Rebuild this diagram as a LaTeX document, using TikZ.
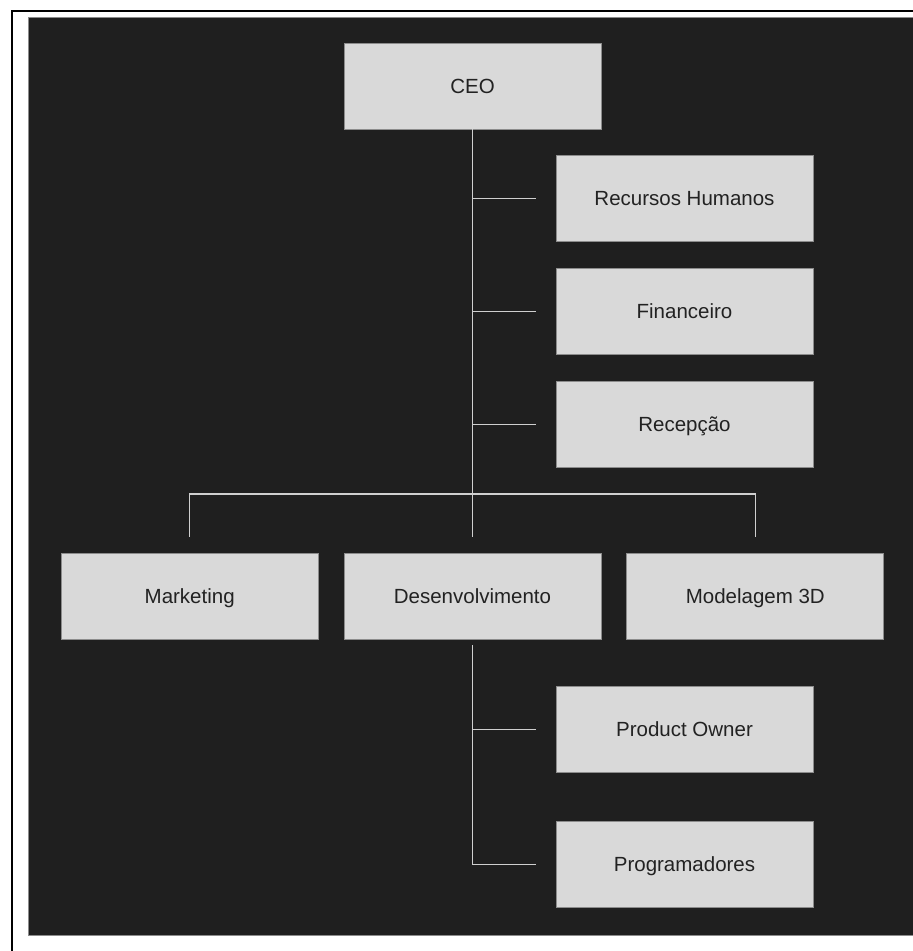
\documentclass[tikz,border=0pt]{standalone}
\usepackage{fontspec}
\setmainfont{Liberation Sans}
\usetikzlibrary{positioning, calc}
\definecolor{BgDark}{HTML}{1F1F1F}
\definecolor{BoxFill}{HTML}{D9D9D9}
\definecolor{BoxEdge}{HTML}{8C8C8C}
\definecolor{LinkGray}{HTML}{CFCFCF}
\definecolor{TextDark}{HTML}{222222}

\tikzset{
  unit/.style={rectangle, fill=BoxFill, draw=BoxEdge, line width=0.8pt,
    minimum width=257pt, minimum height=86pt, inner sep=0pt,
    text height=14.7pt, text depth=0pt,
    text=TextDark, font=\fontsize{20.5}{24}\selectfont},
  link/.style={draw=LinkGray, line width=1.5pt}
}

\begin{document}
\begin{tikzpicture}[x=1pt, y=-1pt]
\useasboundingbox (0,0) rectangle (913,951);

% moldura e fundo
\fill[white] (0,0) rectangle (913,951);
\draw[black, line width=2pt] (11.5,951) -- (11.5,10.5) -- (913,10.5);
\fill[BgDark, draw=BoxEdge, line width=0.8pt] (28.5,17) rectangle (914,935);

% diretoria
\node[unit] (ceo) at (472.5,86) {CEO};

% setores de apoio
\foreach \nome/\rot [count=\i from 0] in {rh/{Recursos Humanos}, fin/Financeiro, rec/{Recepção}}{
    \node[unit] (\nome) at (684.5,{198.5+\i*113}) {\rot};
    \draw[link] (ceo.south |- \nome.west) -- ([xshift=-20pt]\nome.west);
}

% departamentos
\node[unit] (dev) at (472.5,596) {Desenvolvimento};
\node[unit, left=25pt of dev] (mkt) {Marketing};
\node[unit, right=25pt of dev] (mod) {Modelagem 3D};

\coordinate (bus) at (472.5,494);
\draw[link] (ceo.south) -- ([yshift=16pt]dev.north);
\draw[link] ([yshift=16pt]mkt.north) |- (bus) -| ([yshift=16pt]mod.north);

% equipe de desenvolvimento
\node[unit] (po) at (684.5,729.5) {Product Owner};
\node[unit] (prog) at (684.5,864.5) {Programadores};

\draw[link] ([yshift=-6pt]dev.south) |- ([xshift=-20pt]prog.west);
\draw[link] (dev.south |- po.west) -- ([xshift=-20pt]po.west);

\end{tikzpicture}
\end{document}
